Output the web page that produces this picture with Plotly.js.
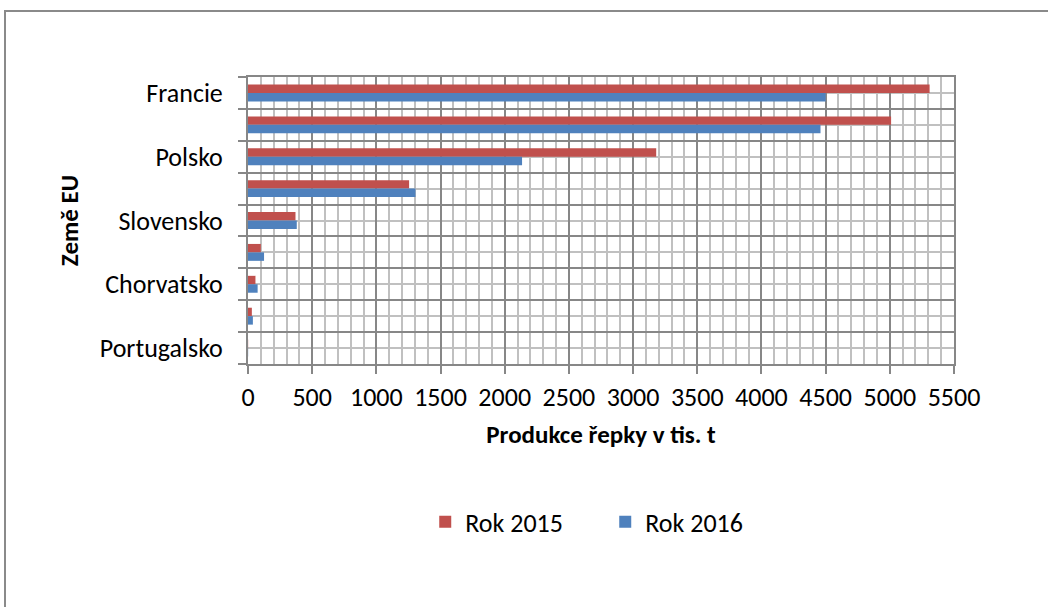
<!DOCTYPE html>
<html>
<head>
<meta charset="utf-8">
<script src="https://cdn.plot.ly/plotly-3.0.1.min.js"></script>
<style>
html,body{margin:0;padding:0;background:#fff;}
#wrap{position:absolute;left:0;top:0;width:1048px;height:607px;overflow:hidden;}
#frame{position:absolute;left:4px;top:10px;width:1100px;height:700px;border-left:2px solid #8a8a8a;border-top:2px solid #8a8a8a;}
#chart{position:absolute;left:0;top:0;width:1048px;height:607px;}
</style>
</head>
<body>
<div id="wrap">
<div id="frame"></div>
<div id="chart"></div>
</div>
<script>
// Data
const countries = ["Francie", "Německo", "Polsko", "Česko", "Slovensko", "Rakousko", "Chorvatsko", "Slovinsko", "Portugalsko"];
const shownLabels = ["Francie", "", "Polsko", "", "Slovensko", "", "Chorvatsko", "", "Portugalsko"];
const rok2015 = [5310, 5010, 3180, 1255, 370, 100, 58, 30, 1];
const rok2016 = [4500, 4460, 2135, 1305, 380, 125, 75, 38, 1];
const seriesNames = ["Rok 2015", "Rok 2016"];
const xTicks = [0, 500, 1000, 1500, 2000, 2500, 3000, 3500, 4000, 4500, 5000, 5500];

const FONT = "Carlito, Lato, 'Liberation Sans', sans-serif";
const FS = 26;

const traces = [
  {type: "bar", orientation: "h", name: seriesNames[0], y: countries, x: rok2015,
   marker: {color: "#c0504d"}, hoverinfo: "x+name"},
  {type: "bar", orientation: "h", name: seriesNames[1], y: countries, x: rok2016,
   marker: {color: "#4f81bd"}, hoverinfo: "x+name"},
  // empty helper trace so the grid axis is drawn
  {type: "scatter", x: [], y: [], yaxis: "y2", showlegend: false, hoverinfo: "skip"}
];

const layout = {
  width: 1048, height: 607,
  paper_bgcolor: "rgba(0,0,0,0)", plot_bgcolor: "rgba(0,0,0,0)",
  margin: {l: 248, r: 94, t: 77, b: 243, pad: 0},
  font: {family: FONT, size: FS, color: "#000"},
  barmode: "group", bargap: 0.47, bargroupgap: 0,
  showlegend: true,
  legend: {orientation: "h", x: 0.506, y: -0.55, xanchor: "center", yanchor: "middle",
           font: {family: FONT, size: FS, color: "#000"}, traceorder: "normal",
           entrywidth: 135, itemwidth: 30},
  xaxis: {
    range: [0, 5500], tickvals: xTicks, ticktext: xTicks.map(String),
    showgrid: true, gridcolor: "#878787", gridwidth: 2,
    minor: {dtick: 100, showgrid: true, gridcolor: "#c0c0c0", gridwidth: 2, ticks: ""},
    ticks: "outside", ticklen: 8, tickwidth: 2, tickcolor: "#878787",
    showline: true, linecolor: "#878787", linewidth: 2, mirror: true,
    zeroline: false, ticklabelstandoff: 1,
    tickfont: {family: FONT, size: FS, color: "#000"},
    title: {text: "<b>Produkce řepky v tis. t</b>", standoff: 13, font: {family: FONT, size: 25, color: "#000"}},
    automargin: false, fixedrange: true
  },
  yaxis: {
    type: "category", autorange: false, range: [8.5, -0.5],
    categoryorder: "array", categoryarray: countries,
    tickvals: countries, ticktext: shownLabels,
    tickson: "boundaries", ticks: "outside", ticklen: 8, tickwidth: 2, tickcolor: "#878787",
    showgrid: false, showline: true, linecolor: "#878787", linewidth: 2, mirror: true,
    zeroline: false, ticklabelstandoff: 18,
    tickfont: {family: FONT, size: FS, color: "#000"},
    title: {text: "<b>Země EU</b>", standoff: 14, font: {family: FONT, size: 25, color: "#000"}},
    automargin: false, fixedrange: true
  },
  yaxis2: {
    overlaying: "y", side: "left", type: "linear", range: [8.5, -0.5], autorange: false,
    tick0: 0.5, dtick: 1, showgrid: true, gridcolor: "#878787", gridwidth: 2,
    minor: {tick0: 0, dtick: 0.5, showgrid: true, gridcolor: "#c0c0c0", gridwidth: 2, ticks: ""},
    showticklabels: false, ticks: "", showline: false, zeroline: false,
    automargin: false, fixedrange: true
  }
};

Plotly.newPlot("chart", traces, layout, {displayModeBar: false, staticPlot: true});
</script>
</body>
</html>
